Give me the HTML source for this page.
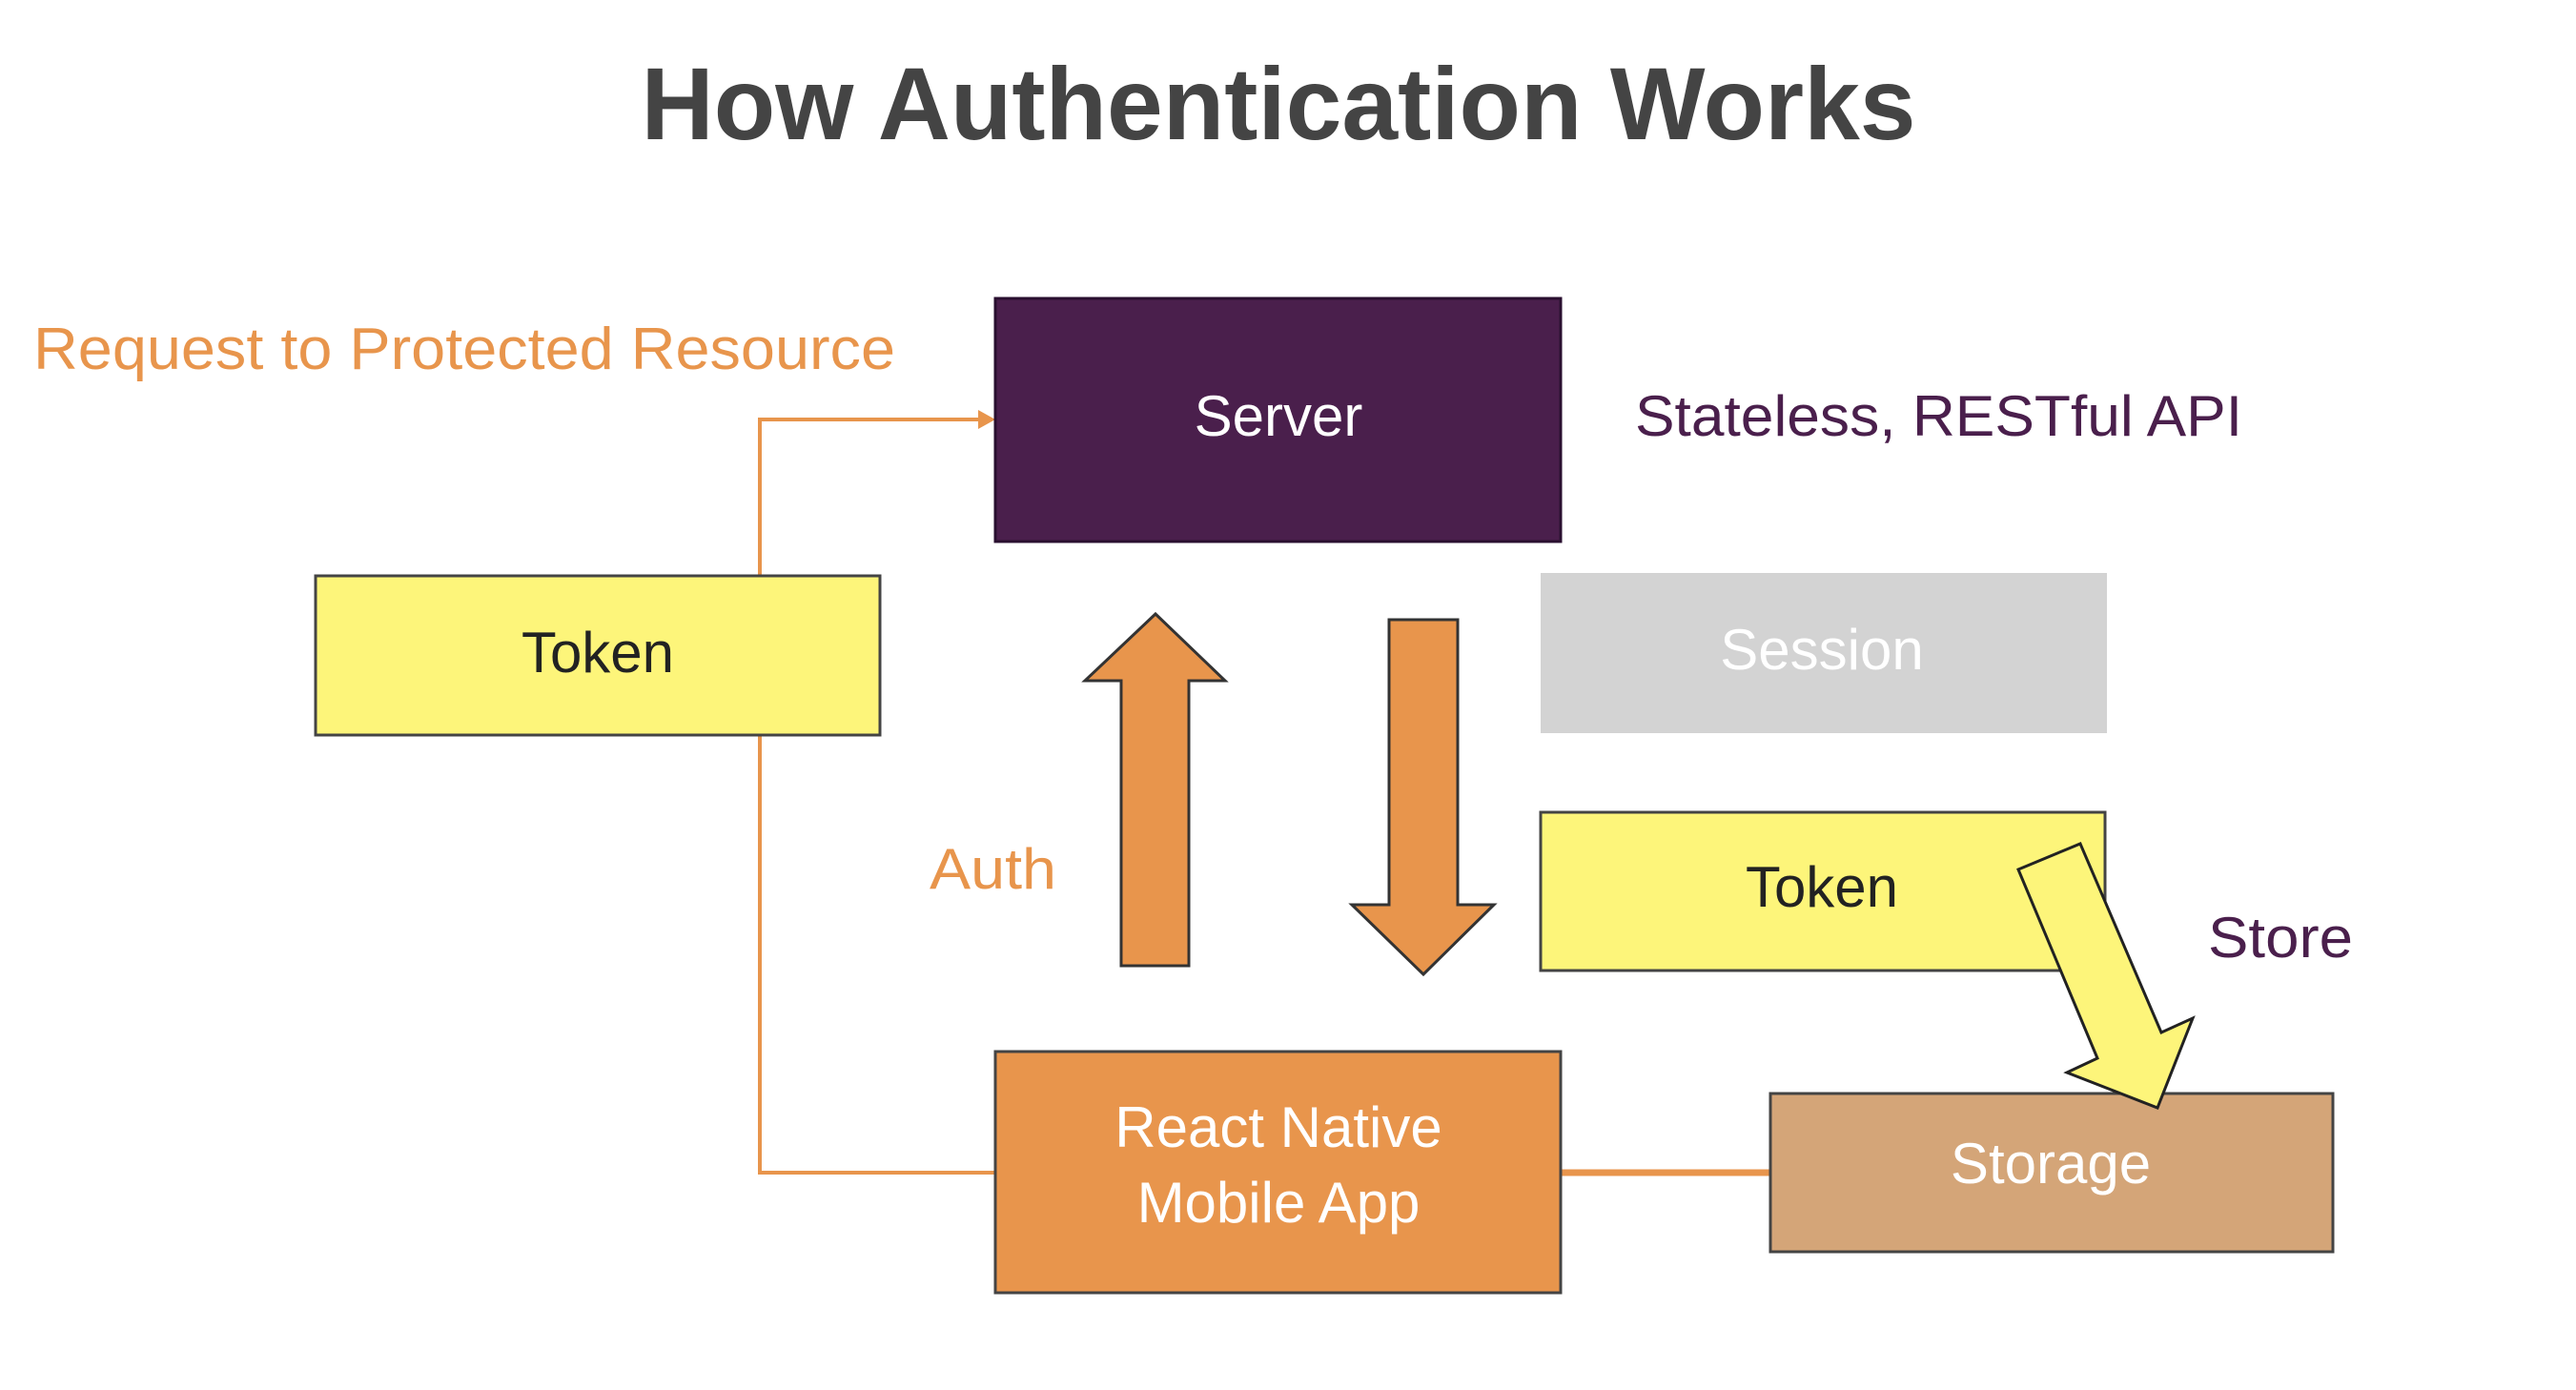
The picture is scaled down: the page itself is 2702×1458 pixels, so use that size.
<!DOCTYPE html>
<html><head><meta charset="utf-8"><style>html,body{margin:0;padding:0;background:#fff}svg{display:block}</style></head>
<body>
<svg width="2702" height="1458" viewBox="0 0 2702 1458" xmlns="http://www.w3.org/2000/svg" font-family="Liberation Sans, DejaVu Sans, sans-serif">
<rect width="2702" height="1458" fill="#fff"/>
<text x="1341" y="146" text-anchor="middle" font-size="108" font-weight="bold" fill="#444" textLength="1337" lengthAdjust="spacingAndGlyphs">How Authentication Works</text>
<!-- connector lines -->
<polyline points="797,604 797,440 1030,440" fill="none" stroke="#e8954c" stroke-width="4"/>
<polygon points="1044,440 1026,430 1026,450" fill="#e8954c"/>
<polyline points="797,771 797,1230 1044,1230" fill="none" stroke="#e8954c" stroke-width="4"/>
<line x1="1637" y1="1230" x2="1857" y2="1230" stroke="#e8954c" stroke-width="7"/>
<!-- boxes -->
<rect x="1044" y="313" width="593" height="255" fill="#4a1f4c" stroke="#2a1030" stroke-width="3"/>
<rect x="331" y="604" width="592" height="167" fill="#fdf57a" stroke="#444" stroke-width="3"/>
<rect x="1616" y="601" width="594" height="168" fill="#d3d3d3"/>
<rect x="1616" y="852" width="592" height="166" fill="#fdf57a" stroke="#444" stroke-width="3"/>
<rect x="1044" y="1103" width="593" height="253" fill="#e8954c" stroke="#444" stroke-width="3"/>
<rect x="1857" y="1147" width="590" height="166" fill="#d4a578" stroke="#444" stroke-width="3"/>
<!-- arrows -->
<polygon points="1176,1013 1247,1013 1247,714 1285,714 1212,644 1138,714 1176,714" fill="#e8954c" stroke="#333" stroke-width="3"/>
<polygon points="1457,650 1529,650 1529,949 1567,949 1493,1022 1418,949 1457,949" fill="#e8954c" stroke="#333" stroke-width="3"/>
<polygon points="2117,912 2182,885 2267,1083 2300,1068 2263,1162 2168,1125 2200,1110" fill="#fdf57a" stroke="#222" stroke-width="3"/>
<!-- labels -->
<text x="35" y="387" font-size="62" fill="#e8954c" textLength="904" lengthAdjust="spacingAndGlyphs">Request to Protected Resource</text>
<text x="1341" y="457" text-anchor="middle" font-size="60" fill="#fff">Server</text>
<text x="1715" y="457" font-size="60" fill="#4a1f4c" textLength="637" lengthAdjust="spacingAndGlyphs">Stateless, RESTful API</text>
<text x="627" y="705" text-anchor="middle" font-size="60" fill="#222">Token</text>
<text x="1911" y="702" text-anchor="middle" font-size="60" fill="#fff">Session</text>
<text x="1911" y="951" text-anchor="middle" font-size="60" fill="#222">Token</text>
<text x="975" y="932" font-size="60" fill="#e8954c" textLength="133" lengthAdjust="spacingAndGlyphs">Auth</text>
<text x="2316" y="1004" font-size="60" fill="#4a1f4c" textLength="152" lengthAdjust="spacingAndGlyphs">Store</text>
<text x="1341" y="1203" text-anchor="middle" font-size="60" fill="#fff">React Native</text>
<text x="1341" y="1282" text-anchor="middle" font-size="60" fill="#fff">Mobile App</text>
<text x="2151" y="1241" text-anchor="middle" font-size="60" fill="#fff">Storage</text>
</svg>
</body></html>
